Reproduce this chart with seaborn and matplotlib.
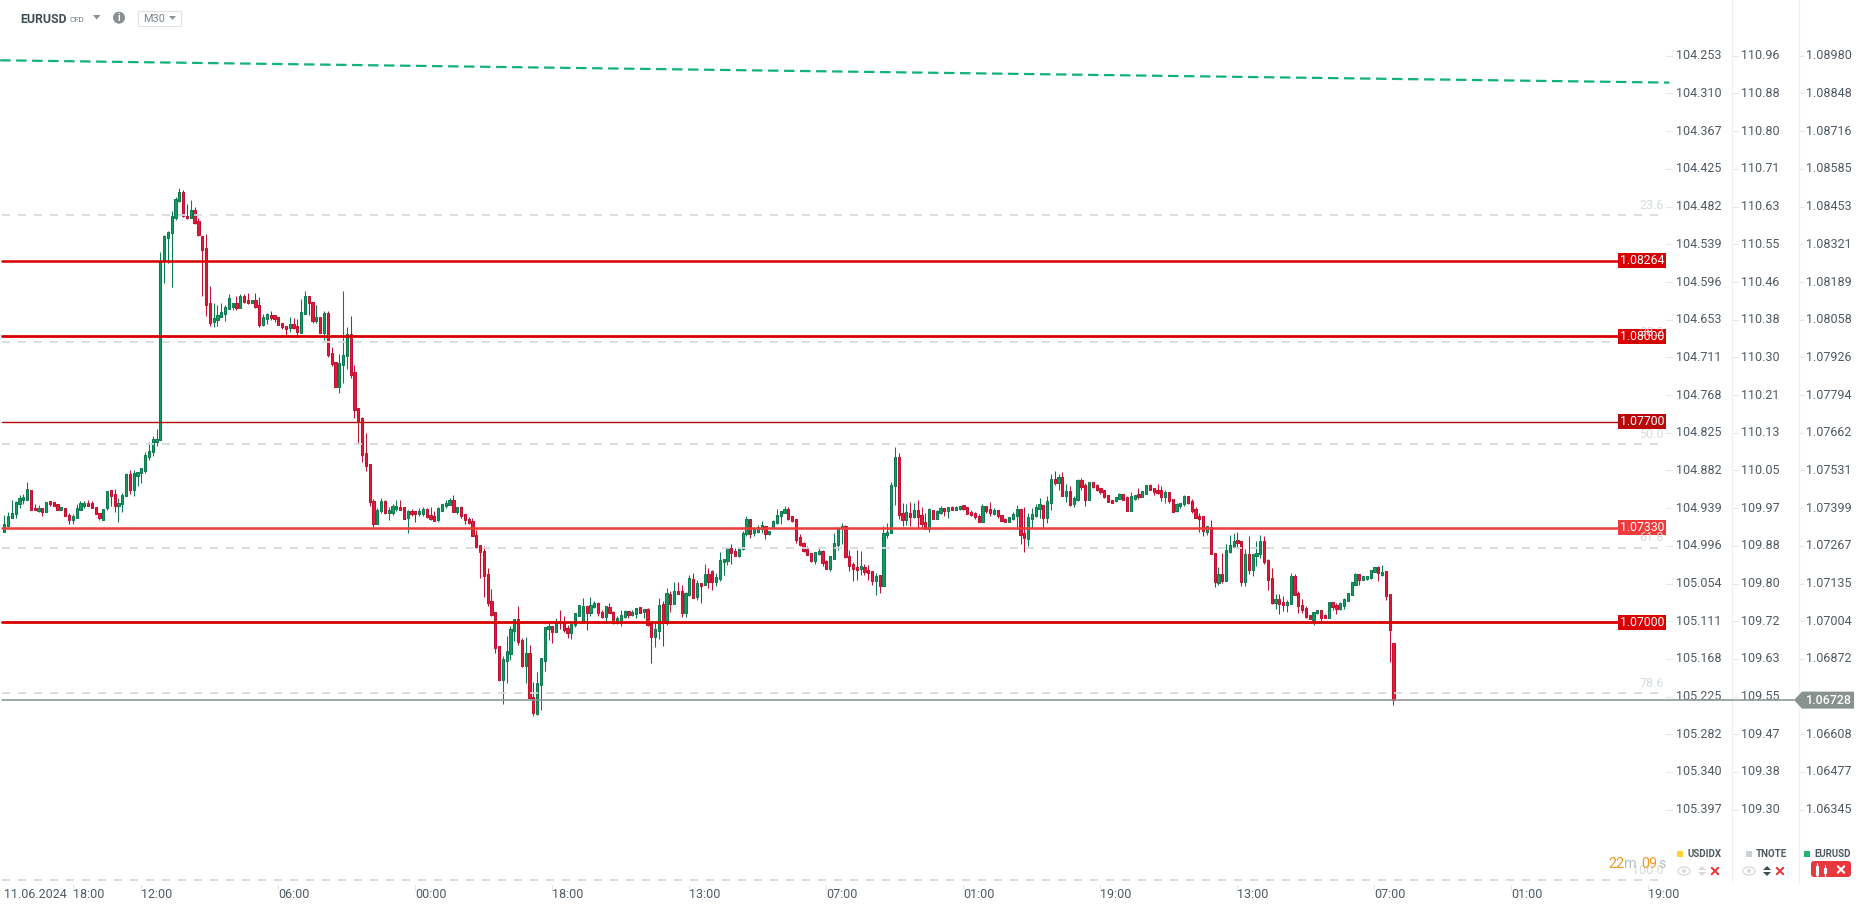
import numpy as np
import pandas as pd
import seaborn as sns
import matplotlib.pyplot as plt
from matplotlib.patches import Rectangle, Polygon, Circle, Ellipse, FancyBboxPatch
from matplotlib.transforms import Affine2D

# EURUSD M30 candles, points above 1.00000 (7376 -> 1.07376)
opens_pts = [
    7317,7337,7366,7377,7415,7429,7429,7462,7399,7390,
    7399,7387,7424,7420,7413,7391,7399,7376,7356,7366,
    7394,7408,7417,7417,7403,7382,7359,7398,7462,7448,
    7408,7412,7441,7519,7461,7512,7521,7530,7578,7594,
    7631,7637,8263,8344,8359,8414,8473,8505,8420,8414,
    8441,8403,8351,8309,8117,8050,8057,8068,8078,8096,
    8103,8117,8099,8141,8127,8117,8127,8110,8040,8061,
    8075,8075,8068,8047,8036,8029,8043,8036,8012,8078,
    8141,8120,8054,8068,8012,8082,7942,7910,7823,7900,
    7931,8008,7876,7750,7715,7592,7554,7425,7344,7390,
    7425,7383,7383,7397,7404,7404,7366,7390,7390,7380,
    7380,7397,7376,7372,7358,7390,7407,7411,7428,7386,
    7404,7379,7362,7355,7306,7270,7250,7170,7075,7037,
    6918,6799,6865,6890,6970,7012,6939,6848,6893,6740,
    6680,6782,6865,6977,6988,6967,7005,7002,6981,6963,
    6991,7023,7002,7058,7033,7054,7068,7037,7019,7054,
    7037,6998,7009,7019,7040,7026,7030,7054,7037,7047,
    7002,6949,6970,7065,6998,7100,7065,7110,7110,7033,
    7096,7152,7089,7138,7131,7170,7180,7142,7152,7211,
    7215,7260,7250,7232,7257,7309,7362,7313,7316,7327,
    7337,7309,7334,7348,7372,7383,7397,7372,7362,7299,
    7278,7257,7243,7215,7239,7250,7215,7187,7222,7271,
    7329,7337,7232,7204,7194,7187,7194,7183,7180,7145,
    7166,7128,7306,7313,7477,7578,7383,7358,7383,7369,
    7393,7376,7351,7327,7393,7362,7383,7400,7390,7404,
    7393,7397,7411,7404,7386,7383,7372,7351,7407,7397,
    7379,7393,7376,7362,7351,7362,7372,7397,7313,7292,
    7362,7372,7397,7411,7365,7418,7502,7488,7509,7442,
    7460,7414,7428,7498,7481,7428,7491,7481,7470,7463,
    7446,7428,7425,7432,7449,7439,7390,7432,7449,7439,
    7449,7481,7470,7463,7463,7439,7456,7432,7390,7407,
    7414,7442,7425,7397,7372,7372,7316,7334,7243,7138,
    7170,7145,7246,7264,7288,7285,7142,7239,7183,7232,
    7239,7285,7218,7156,7068,7082,7072,7061,7065,7163,
    7103,7061,7051,7026,7009,7033,7044,7026,7016,7072,
    7061,7047,7058,7075,7096,7131,7170,7149,7152,7156,
    7177,7194,7166,7180,7100,6928,
]
highs_pts = [
    7376,7386,7427,7425,7444,7448,7491,7462,7413,7410,
    7399,7421,7425,7421,7413,7403,7399,7382,7378,7413,
    7424,7424,7427,7424,7403,7382,7396,7458,7462,7467,
    7436,7451,7523,7533,7533,7526,7540,7596,7629,7652,
    7675,8293,8354,8368,8438,8487,8519,8510,8462,8476,
    8452,8414,8351,8358,8176,8117,8110,8117,8110,8148,
    8117,8141,8148,8148,8152,8127,8152,8138,8078,8082,
    8089,8075,8068,8047,8036,8068,8064,8061,8131,8159,
    8141,8120,8110,8068,8089,8089,7963,7910,7938,8159,
    8033,8071,7900,7750,7718,7662,7554,7432,7401,7435,
    7428,7404,7414,7428,7428,7404,7393,7397,7390,7400,
    7404,7400,7404,7390,7404,7414,7428,7435,7446,7404,
    7407,7379,7369,7364,7323,7270,7267,7191,7117,7037,
    6918,6883,6953,6988,7012,7058,6946,6949,6921,6792,
    6827,6876,6984,6998,6988,7016,7044,7023,6991,7002,
    7033,7061,7086,7058,7089,7075,7072,7044,7058,7068,
    7040,7023,7044,7044,7040,7044,7051,7054,7047,7051,
    7002,7005,7086,7075,7121,7110,7142,7142,7131,7107,
    7166,7173,7149,7138,7204,7191,7184,7173,7246,7222,
    7260,7274,7260,7257,7320,7372,7362,7334,7341,7355,
    7337,7320,7358,7397,7390,7407,7404,7372,7362,7309,
    7281,7267,7243,7246,7260,7253,7218,7232,7313,7334,
    7348,7341,7253,7211,7253,7250,7204,7201,7180,7173,
    7166,7337,7348,7491,7613,7592,7418,7414,7421,7418,
    7428,7404,7383,7400,7393,7393,7407,7400,7404,7407,
    7407,7407,7411,7404,7393,7386,7379,7414,7407,7421,
    7400,7393,7376,7365,7369,7386,7411,7397,7404,7383,
    7400,7414,7435,7411,7442,7519,7530,7519,7526,7484,
    7477,7442,7502,7505,7488,7491,7491,7484,7470,7463,
    7446,7428,7439,7453,7449,7442,7456,7446,7470,7460,
    7481,7484,7470,7484,7477,7463,7456,7432,7418,7418,
    7446,7442,7432,7404,7383,7372,7337,7358,7243,7194,
    7243,7274,7306,7313,7316,7285,7257,7302,7239,7285,
    7306,7302,7222,7191,7100,7100,7093,7079,7173,7170,
    7110,7082,7058,7026,7037,7044,7044,7030,7072,7072,
    7068,7072,7086,7103,7142,7173,7170,7163,7163,7184,
    7194,7197,7201,7180,7100,6928,
]
lows_pts = [
    7317,7334,7366,7366,7401,7415,7429,7394,7391,7387,
    7373,7387,7408,7405,7391,7391,7370,7345,7345,7366,
    7391,7401,7408,7398,7377,7359,7356,7394,7408,7387,
    7352,7387,7441,7450,7440,7476,7488,7523,7568,7582,
    7617,7637,8187,8256,8170,8407,8470,8415,8411,8414,
    8393,8351,8139,8071,8036,8033,8036,8068,8054,8096,
    8092,8092,8099,8117,8113,8117,8099,8033,8036,8043,
    8057,8050,8040,8026,8001,8015,8026,8001,8012,8078,
    8075,8047,8047,8012,7987,7928,7896,7823,7802,7837,
    7886,7855,7715,7627,7561,7530,7406,7329,7344,7383,
    7380,7358,7376,7390,7394,7362,7313,7372,7351,7372,
    7372,7365,7358,7355,7351,7390,7400,7411,7386,7379,
    7365,7344,7344,7300,7260,7153,7087,7058,7023,6893,
    6796,6715,6789,6869,6935,6921,6845,6789,6733,6673,
    6677,6694,6831,6939,6928,6967,6977,6967,6946,6942,
    6984,7023,6998,6974,7023,7051,7023,7016,7002,7033,
    6995,6995,6988,7016,7016,7023,7016,7033,7016,6988,
    6858,6914,6942,6918,6991,7037,7065,7100,7019,7019,
    7093,7086,7079,7068,7131,7121,7114,7128,7145,7166,
    7201,7204,7232,7229,7253,7302,7295,7302,7313,7313,
    7292,7306,7330,7344,7344,7383,7358,7351,7278,7267,
    7246,7236,7211,7204,7236,7197,7187,7180,7222,7253,
    7273,7225,7180,7145,7149,7166,7166,7149,7131,7096,
    7103,7128,7295,7313,7411,7362,7337,7341,7337,7365,
    7330,7330,7327,7316,7362,7362,7379,7372,7365,7393,
    7393,7393,7393,7379,7372,7362,7351,7351,7383,7372,
    7376,7365,7355,7351,7351,7358,7327,7274,7246,7267,
    7330,7369,7365,7330,7348,7393,7481,7463,7442,7421,
    7407,7404,7425,7463,7407,7428,7470,7460,7449,7435,
    7421,7418,7421,7432,7428,7390,7390,7428,7432,7439,
    7449,7463,7446,7449,7425,7418,7418,7386,7386,7400,
    7407,7414,7383,7365,7316,7302,7306,7239,7124,7131,
    7138,7145,7243,7264,7264,7128,7128,7168,7163,7197,
    7225,7204,7114,7065,7047,7030,7040,7037,7065,7096,
    7033,7033,7016,7012,6991,7030,7005,7016,7016,7044,
    7030,7044,7047,7075,7096,7131,7131,7149,7149,7152,
    7177,7145,7163,7079,6862,6712,
]
closes_pts = [
    7343,7371,7382,7421,7434,7439,7465,7394,7391,7399,
    7387,7420,7415,7405,7391,7403,7370,7356,7371,7399,
    7417,7417,7408,7398,7377,7363,7396,7458,7443,7408,
    7417,7444,7519,7461,7523,7525,7540,7585,7599,7640,
    7640,8263,8351,8365,8421,8480,8505,8421,8414,8441,
    8396,8354,8300,8110,8047,8064,8075,8085,8103,8134,
    8117,8099,8141,8120,8117,8127,8103,8040,8068,8078,
    8064,8061,8040,8033,8026,8043,8029,8015,8085,8141,
    8117,8054,8068,8012,8082,7935,7903,7823,7907,7935,
    8008,7865,7743,7704,7585,7547,7421,7344,7393,7425,
    7383,7393,7407,7407,7394,7362,7390,7380,7380,7390,
    7397,7369,7362,7355,7400,7414,7418,7428,7386,7404,
    7372,7358,7348,7300,7264,7244,7163,7068,7026,6911,
    6799,6872,6900,6977,7012,6932,6848,6893,6736,6684,
    6789,6876,6984,6988,6967,7005,6998,6974,6963,6995,
    7033,7061,7058,7033,7061,7068,7033,7019,7058,7033,
    6998,7016,7026,7040,7026,7037,7051,7033,7047,6991,
    6949,6977,7061,6998,7103,7065,7110,7100,7033,7103,
    7156,7086,7138,7128,7170,7142,7142,7159,7218,7222,
    7260,7243,7232,7257,7313,7362,7309,7327,7334,7341,
    7309,7320,7355,7376,7390,7397,7362,7355,7288,7271,
    7250,7236,7215,7246,7250,7208,7187,7232,7278,7330,
    7337,7229,7197,7187,7183,7197,7177,7173,7145,7163,
    7128,7313,7316,7481,7578,7376,7358,7386,7369,7393,
    7369,7344,7327,7397,7362,7390,7400,7390,7404,7393,
    7404,7407,7397,7379,7376,7369,7351,7407,7390,7383,
    7393,7372,7355,7351,7369,7379,7397,7306,7295,7369,
    7379,7404,7414,7365,7425,7502,7488,7509,7442,7460,
    7411,7435,7498,7474,7428,7491,7474,7463,7456,7439,
    7421,7418,7439,7449,7428,7390,7442,7446,7439,7460,
    7481,7463,7456,7453,7439,7456,7425,7386,7414,7418,
    7442,7418,7390,7365,7362,7320,7337,7239,7142,7170,
    7145,7253,7271,7285,7278,7142,7239,7183,7239,7243,
    7285,7211,7149,7068,7082,7065,7061,7072,7163,7096,
    7058,7044,7019,7012,7037,7044,7016,7016,7072,7054,
    7047,7068,7082,7103,7142,7170,7149,7163,7163,7184,
    7194,7173,7177,7093,6974,6728,
]

# levels
level_prices = [1.08264, 1.08000, 1.07700, 1.07330, 1.07000]
level_labels = ['1.08264', '1.08000', '1.07700', '1.07330', '1.07000']
level_colors = ['#d80000', '#d80000', '#b80808', '#ee3b3b', '#d80000']
level_widths = [1.8, 2.0, 1.0, 1.8, 2.0]
fib_prices = [1.08423, 1.07979, 1.07623, 1.07261, 1.06752, 1.06100]
fib_labels = ['23.6', '38.2', '50.0', '61.8', '78.6', '100.0']
trend_x = [-1.1, 437.5]
trend_y = [1.08964, 1.08886]
last_price = 1.06728

# right hand scales
eurusd_ticks = [1.08980, 1.08848, 1.08716, 1.08585, 1.08453, 1.08321, 1.08189, 1.08058, 1.07926, 1.07794, 1.07662,
                1.07531, 1.07399, 1.07267, 1.07135, 1.07004, 1.06872, 1.06740, 1.06608, 1.06477, 1.06345]
usdidx_labels = ['104.253', '104.310', '104.367', '104.425', '104.482', '104.539', '104.596', '104.653', '104.711',
                 '104.768', '104.825', '104.882', '104.939', '104.996', '105.054', '105.111', '105.168', '105.225',
                 '105.282', '105.340', '105.397']
tnote_labels = ['110.96', '110.88', '110.80', '110.71', '110.63', '110.55', '110.46', '110.38', '110.30', '110.21',
                '110.13', '110.05', '109.97', '109.88', '109.80', '109.72', '109.63', '109.55', '109.47', '109.38',
                '109.30']
time_ticks = [0, 18, 36, 72, 108, 144, 180, 216, 252, 288, 324, 360, 396, 432]
time_labels = ['11.06.2024', '18:00', '12:00', '06:00', '00:00', '18:00', '13:00', '07:00', '01:00', '19:00',
               '13:00', '07:00', '01:00', '19:00']

W, H = 1866, 909
STEP = 3.806  # px per candle
PX_PER_UNIT = 28614
LAST_Y = 700.1  # pixel row of the last price
TEXT = '#4f5a64'

sns.set_theme(style='white')
plt.rcParams['font.family'] = ['Roboto', 'DejaVu Sans']

df = pd.DataFrame({'open': opens_pts, 'high': highs_pts, 'low': lows_pts, 'close': closes_pts})
df = 1 + df / 100000
df['i'] = np.arange(len(df))
up = df['close'] >= df['open']

fig = plt.figure(figsize=(W / 100, H / 100), dpi=100)
ax = fig.add_axes([0, 0, 1, 1])
ax.set_xlim(-4.3 / STEP, (W - 4.3) / STEP)
ax.set_ylim(last_price - (H - LAST_Y) / PX_PER_UNIT, last_price + LAST_Y / PX_PER_UNIT)
ax.axis('off')

# everything outside the plot is placed in screen pixels
px = Affine2D().scale(1, -1).translate(0, H)


def label(x, y, s, size=9.0, color=TEXT, ha='left', weight='normal', zorder=6):
    ax.text(x, y, s, transform=px, fontsize=size, color=color, ha=ha, va='center', fontweight=weight, zorder=zorder)


def cross(x, y, color, r=3.2):
    ax.plot([x - r, x + r], [y - r, y + r], transform=px, color=color, lw=1.5, zorder=6)
    ax.plot([x - r, x + r], [y + r, y - r], transform=px, color=color, lw=1.5, zorder=6)


def tri(points, color):
    ax.add_patch(Polygon(points, closed=True, transform=px, fc=color, ec='none', zorder=6))


def eye(x, y):
    ax.add_patch(Ellipse((x, y), 12, 8, transform=px, fc='none', ec='#d5dade', lw=0.9, zorder=6))
    ax.add_patch(Circle((x, y), 2, transform=px, fc='#d5dade', ec='none', zorder=6))


# candles
wick_colors = np.where(up, '#0c7a52', '#c1122f')
body_colors = np.where(up, '#169a63', '#e01b3c')
edge_colors = np.where(up, '#0e7a50', '#c1122f')
ax.vlines(df['i'], df['low'], df['high'], colors=wick_colors, lw=0.75, zorder=2)
ax.bar(df['i'], (df['close'] - df['open']).abs(), bottom=df[['open', 'close']].min(axis=1), width=0.58,
       color=body_colors, edgecolor=edge_colors, linewidth=0.75, zorder=3)

# fibonacci levels
for price, name in zip(fib_prices, fib_labels):
    sns.lineplot(x=[-0.6, 434.8], y=[price, price], ax=ax, color='#d3dcdf', linewidth=1.44, alpha=0.9, zorder=4,
                 estimator=None, errorbar=None, legend=False)
    ax.lines[-1].set_dashes((4, 4))
    ax.text(436, price + 9.6 / PX_PER_UNIT, name, fontsize=9.0, color='#d5dce0', ha='right', va='center', zorder=8)

# price levels
for price, name, color, width in zip(level_prices, level_labels, level_colors, level_widths):
    sns.lineplot(x=[-0.6, 424], y=[price, price], ax=ax, color=color, linewidth=width, zorder=5,
                 estimator=None, errorbar=None, legend=False)
    ax.add_patch(Rectangle((424, price - 7.5 / PX_PER_UNIT), 12.6, 15 / PX_PER_UNIT, fc=color, ec='none', zorder=6))
    ax.text(430.3, price, name, fontsize=8.8, color='white', ha='center', va='center', zorder=7)

# trend line
sns.lineplot(x=trend_x, y=trend_y, ax=ax, color='#12b07c', linewidth=1.6, zorder=5, estimator=None, errorbar=None,
             legend=False)
ax.lines[-1].set_dashes((4.7, 2.5))

# last price line and tag
sns.lineplot(x=[-0.6, 470.2], y=[last_price, last_price], ax=ax, color='#86908f', linewidth=1.1, zorder=7,
             estimator=None, errorbar=None, legend=False)
tri([(1794, LAST_Y), (1802, LAST_Y - 8.5), (1854, LAST_Y - 8.5), (1854, LAST_Y + 8.5), (1802, LAST_Y + 8.5)], '#87918f')
label(1806, LAST_Y, '1.06728', color='white', weight='medium', zorder=8)

# right scales
for x in [1732, 1799]:
    ax.plot([x, x], [0, 883], transform=px, color='#eef0f2', lw=0.9, zorder=1)
for price, usd, tn in zip(eurusd_ticks, usdidx_labels, tnote_labels):
    ypx = LAST_Y - (price - last_price) * PX_PER_UNIT
    label(1676, ypx, usd, zorder=4)
    label(1741, ypx, tn, zorder=4)
    if price != 1.06740:
        label(1806, ypx, f'{price:.5f}', zorder=4)
    for x0, x1 in [(1666, 1672), (1733, 1738), (1799, 1804)]:
        ax.plot([x0, x1], [ypx, ypx], transform=px, color='#e6e9eb', lw=0.8, zorder=1)

# time axis
for tick, name in zip(time_ticks, time_labels):
    xpx = 4.3 + tick * STEP
    if tick > 0:
        ax.plot([xpx, xpx], [885, 890], transform=px, color='#e3e6e8', lw=0.8, zorder=1)
    label(xpx, 895, name)

# header
label(20, 19.3, 'EURUSD', size=8.8, color='#3f4d57', weight='bold')
label(70, 20, 'CFD', size=5.8, color='#6b7780')
tri([(93, 15), (100.5, 15), (96.7, 19.5)], '#8a9299')
ax.add_patch(Circle((119, 17.7), 6, transform=px, fc='#8a8f93', ec='none', zorder=6))
label(119, 18, 'i', size=7, color='white', ha='center', weight='bold')
ax.add_patch(Rectangle((137.5, 10.5), 43, 15, transform=px, fc='white', ec='#e1e4e6', lw=0.8, zorder=6))
label(143, 18.6, 'M30', size=7.8, color='#78838c')
tri([(169, 16), (176, 16), (172.5, 19.8)], '#8a9299')

# countdown
label(1608, 864, '22', size=10.4, color='#f7941d', zorder=9)
label(1624, 864, 'm', size=10.4, color='#b8bfc5', zorder=9)
label(1641.5, 864, '09', size=10.4, color='#f7941d', zorder=9)
label(1658.5, 864, 's', size=10.4, color='#b8bfc5', zorder=9)

# instrument legend
ax.add_patch(Rectangle((1677, 851), 6, 6, transform=px, fc='#ffd22e', ec='none', zorder=6))
label(1687, 854, 'USDIDX', size=7.0, color='#4f5a64', weight='bold')
ax.add_patch(Rectangle((1746, 851), 6, 6, transform=px, fc='#c9d1d6', ec='none', zorder=6))
label(1756, 854, 'TNOTE', size=7.0, color='#4f5a64', weight='bold')
ax.add_patch(Rectangle((1804, 851), 6, 6, transform=px, fc='#1fb573', ec='none', zorder=6))
label(1814, 854, 'EURUSD', size=7.0, color='#4f5a64', weight='bold')

eye(1684, 871)
tri([(1698, 870), (1706, 870), (1702, 866)], '#d5dade')
tri([(1698, 872), (1706, 872), (1702, 876)], '#d5dade')
cross(1715, 871, '#e8383d')
eye(1749, 871)
tri([(1763, 870), (1771, 870), (1767, 866)], '#3f4d57')
tri([(1763, 872), (1771, 872), (1767, 876)], '#3f4d57')
cross(1780, 871, '#e8383d')

ax.add_patch(FancyBboxPatch((1813, 863), 36, 12, boxstyle='round,pad=2,rounding_size=3', transform=px, fc='#e8383d',
                            ec='none', zorder=6))
ax.add_patch(Rectangle((1816, 866), 2.4, 9, transform=px, fc='none', ec='white', lw=0.8, zorder=7))
ax.add_patch(Rectangle((1824, 868), 2.4, 5, transform=px, fc='white', ec='white', lw=0.8, zorder=7))
ax.plot([1817.2, 1817.2], [863, 878], transform=px, color='white', lw=0.8, zorder=7)
ax.plot([1825.2, 1825.2], [865, 876], transform=px, color='white', lw=0.8, zorder=7)
cross(1841, 869.5, 'white')

fig.savefig('out.png', dpi=100, facecolor='white')
